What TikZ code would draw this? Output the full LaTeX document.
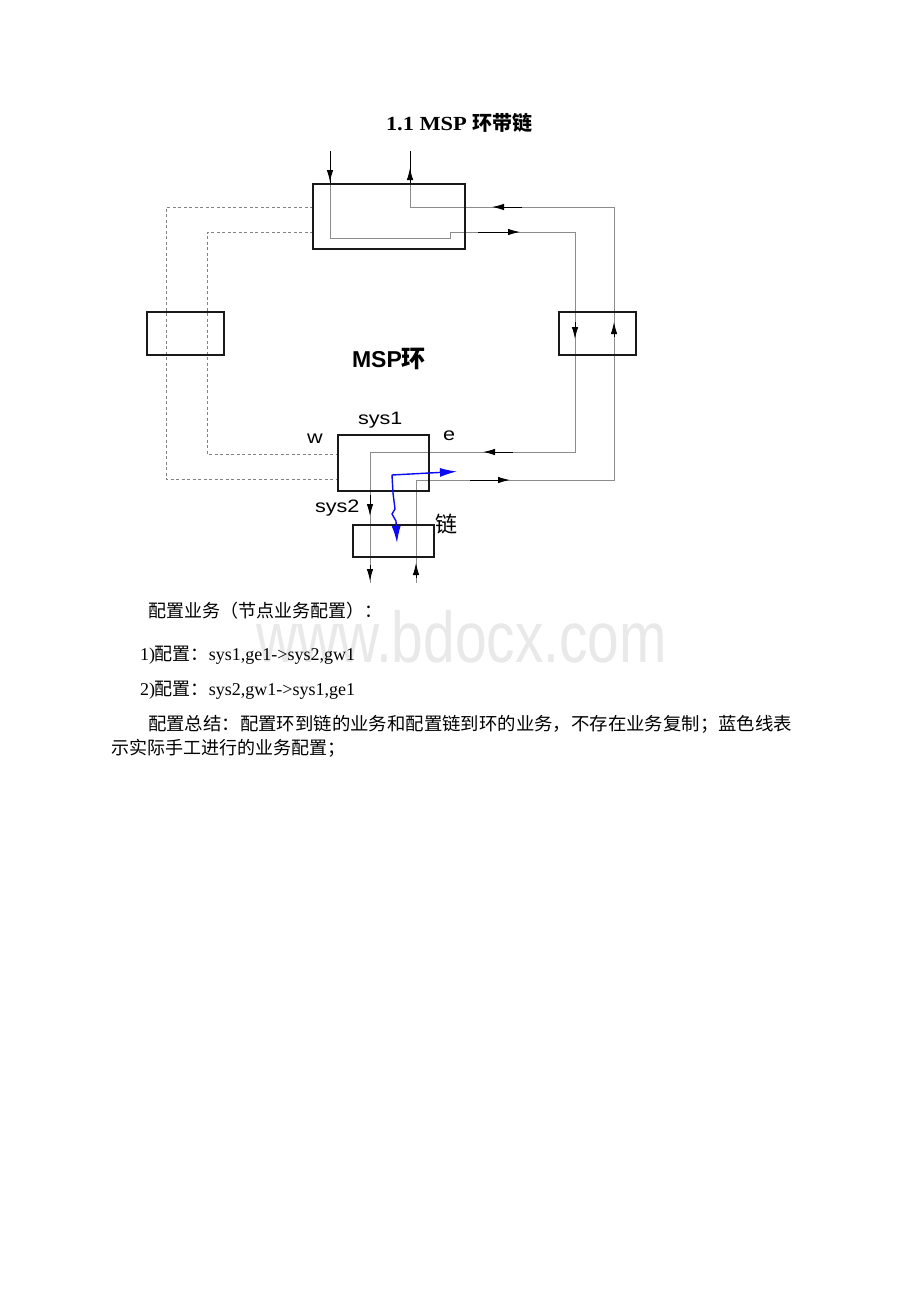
\documentclass[tikz,border=0pt]{standalone}
\usepackage{fontspec}
\usepackage{graphicx}
\setmainfont{Liberation Serif}
\newfontfamily\cjk{Noto Sans CJK SC}
\newfontfamily\arial{Liberation Sans}
\usetikzlibrary{arrows.meta}
\definecolor{linegray}{RGB}{140,140,140}
\definecolor{dashgray}{RGB}{130,130,130}
\definecolor{wmgray}{RGB}{233,233,233}
\definecolor{boxline}{RGB}{25,25,25}
\definecolor{flowblue}{RGB}{10,10,245}
\newcommand{\fsz}[1]{\fontsize{#1}{#1}\selectfont}
\begin{document}
\begin{tikzpicture}[x=1pt,y=-1pt,
  boxnode/.style={draw=boxline, line width=2pt, inner sep=0pt, outer sep=0pt, anchor=north west},
  conn/.style={draw=linegray, line width=0.9pt},
  darkseg/.style={draw=black, line width=0.9pt},
  ringdash/.style={draw=dashgray, line width=0.9pt, dash pattern=on 3pt off 2.5pt},
  tipseg/.style={draw=black, line width=0.9pt, -{Latex[length=12pt,width=6.5pt]}},
  blueflow/.style={draw=flowblue, line width=1.4pt, line join=round, {Latex[length=17pt,width=9pt]}-{Latex[length=17pt,width=9pt]}},
  lbl/.style={inner sep=0pt, outer sep=0pt, anchor=base west},
  bodytext/.style={inner sep=0pt, outer sep=0pt, anchor=base west, font=\fsz{18}},
]
\fill[white] (0,0) rectangle (920,1302);
\useasboundingbox (0,0) rectangle (920,1302);

% watermark
\node[lbl, text=wmgray] (wm) at (256,662) {\arial\fsz{72}\scalebox{0.79}[1]{www.bdocx.com}};

% title
\node[lbl] (title) at (386,130.5) {\fsz{20}\bfseries\scalebox{1.12}[1]{1.1 MSP}\hspace{6pt}{\cjk\fsz{20}环带链}};

% coordinates of path A (ring -> east -> sys1 -> chain)
\coordinate (pA0) at (330,151);
\coordinate (pA1) at (330,238);
\coordinate (pA2) at (450,238);
\coordinate (pA3) at (450,232);
\coordinate (pA4) at (575,232);
\coordinate (pA5) at (575,452);
\coordinate (pA6) at (370,452);
\coordinate (pA7) at (370,583);
% coordinates of path B (chain -> sys1 -> east -> top)
\coordinate (pB0) at (416,583);
\coordinate (pB1) at (416,480);
\coordinate (pB2) at (614,480);
\coordinate (pB3) at (614,207);
\coordinate (pB4) at (410,207);
\coordinate (pB5) at (410,151);
% west (dashed) path coordinates
\coordinate (dO0) at (313,207);
\coordinate (dO1) at (166,207);
\coordinate (dO2) at (166,479);
\coordinate (dO3) at (338,479);
\coordinate (dI0) at (313,232);
\coordinate (dI1) at (207,232);
\coordinate (dI2) at (207,454);
\coordinate (dI3) at (338,454);
% blue configured path
\coordinate (bl0) at (457,471.5);
\coordinate (bl1) at (392,475);
\coordinate (bl2) at (393,493);
\coordinate (bl3) at (395,509);
\coordinate (bl4) at (392,514);
\coordinate (bl5) at (396,521);
\coordinate (bl6) at (397,543);

% dashed west side
\draw[ringdash] (dO0) -- (dO1) -- (dO2) -- (dO3);
\draw[ringdash] (dI0) -- (dI1) -- (dI2) -- (dI3);

% solid east side
\draw[conn] (pA0) -- (pA1) -- (pA2) -- (pA3) -- (pA4) -- (pA5) -- (pA6) -- (pA7);
\draw[conn] (pB0) -- (pB1) -- (pB2) -- (pB3) -- (pB4) -- (pB5);

% dark top stubs
\draw[darkseg] (pA0) -- ++(0,33);
\draw[darkseg] (pB5) -- ++(0,33);

% arrowheads on path A
\draw[tipseg] (pA0) -- ++(0,31);
\draw[tipseg] (pA3) ++(28,0) -- ++(42,0);
\draw[tipseg] (pA4) ++(0,90) -- ++(0,17);
\draw[tipseg] (pA5) ++(-62,0) -- ++(-30,0);
\draw[tipseg] (pA6) ++(0,43) -- ++(0,21);
\draw[tipseg] (pA6) ++(0,113) -- ++(0,16);
% arrowheads on path B
\draw[tipseg] (pB0) ++(0,-5) -- ++(0,-15);
\draw[tipseg] (pB1) ++(54,0) -- ++(40,0);
\draw[tipseg] (pB3) ++(0,130) -- ++(0,-15);
\draw[tipseg] (pB3) ++(-92,0) -- ++(-30,0);
\draw[tipseg] (pB5) ++(0,33) -- ++(0,-16);

% boxes
\node[boxnode, minimum width=152pt, minimum height=65pt] (topbox) at (313,184) {};
\node[boxnode, minimum width=77pt, minimum height=43pt] (westbox) at (147,312) {};
\node[boxnode, minimum width=77pt, minimum height=43pt] (eastbox) at (559,312) {};
\node[boxnode, minimum width=91pt, minimum height=56pt] (sysbox) at (338,435) {};
\node[boxnode, minimum width=81pt, minimum height=32pt] (chainbox) at (353,525) {};

% blue configured service
\draw[blueflow] (bl0) -- (bl1) -- (bl2) -- (bl3) -- (bl4) -- (bl5) -- (bl6);

% diagram labels
\node[lbl] (ringlbl) at (352,367) {\arial\bfseries\fsz{23}MSP{\cjk\fsz{24}环}};
\node[lbl] (sys1lbl) at (358,424.5) {\arial\fsz{18}\scalebox{1.2}[1]{sys1}};
\node[lbl] (wlbl) at (307,443) {\arial\fsz{18}\scalebox{1.2}[1]{w}};
\node[lbl] (elbl) at (443,440.5) {\arial\fsz{18}\scalebox{1.2}[1]{e}};
\node[lbl] (sys2lbl) at (315,512) {\arial\fsz{18}\scalebox{1.2}[1]{sys2}};
\node[inner sep=0pt] (chainlbl) at (446.3,524) {\cjk\fsz{22}链};

% body text
\node[bodytext] (t1) at (148,617.5) {\cjk 配置业务（节点业务配置）：};
\node[bodytext] (t2) at (140,660) {1){\cjk 配置：}sys1,ge1->sys2,gw1};
\node[bodytext] (t3) at (140,695) {2){\cjk 配置：}sys2,gw1->sys1,ge1};
\node[bodytext] (t4) at (148,730) {\resizebox{644pt}{\height}{\cjk 配置总结：配置环到链的业务和配置链到环的业务，不存在业务复制；蓝色线表}};
\node[bodytext] (t5) at (111,754.5) {\cjk 示实际手工进行的业务配置；};
\end{tikzpicture}
\end{document}
